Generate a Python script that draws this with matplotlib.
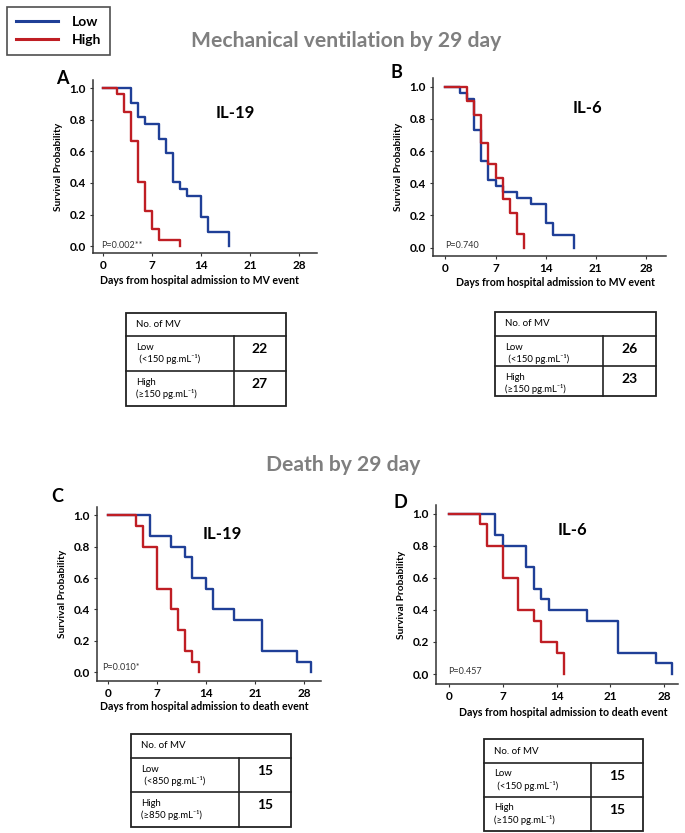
import matplotlib
matplotlib.use('Agg')
import matplotlib.pyplot as plt
from matplotlib.lines import Line2D
from matplotlib.patches import Rectangle

plt.rcParams['font.family'] = ['Lato', 'DejaVu Sans']

BLUE = '#1f3f97'
RED = '#bf1e24'

# Kaplan-Meier step data (day, survival probability)
# A: IL-19, mechanical ventilation
a_low_t = [0, 4, 5, 6, 8, 9, 10, 11, 12, 14, 15, 18]
a_low_s = [1.0, 0.909, 0.818, 0.773, 0.682, 0.591, 0.409, 0.364, 0.318, 0.182, 0.091, 0.0]
a_high_t = [0, 2, 3, 4, 5, 6, 7, 8, 11]
a_high_s = [1.0, 0.963, 0.852, 0.667, 0.407, 0.222, 0.111, 0.037, 0.0]

# B: IL-6, mechanical ventilation
b_low_t = [0, 2, 3, 4, 5, 6, 7, 8, 10, 12, 14, 15, 18]
b_low_s = [1.0, 0.962, 0.923, 0.731, 0.538, 0.423, 0.385, 0.346, 0.308, 0.269, 0.154, 0.077, 0.0]
b_high_t = [0, 3, 4, 5, 6, 7, 8, 9, 10, 11]
b_high_s = [1.0, 0.913, 0.826, 0.652, 0.522, 0.435, 0.304, 0.217, 0.087, 0.0]

# C: IL-19, death
c_low_t = [0, 6, 9, 11, 12, 14, 15, 18, 22, 27, 29]
c_low_s = [1.0, 0.867, 0.8, 0.733, 0.6, 0.533, 0.4, 0.333, 0.133, 0.067, 0.0]
c_high_t = [0, 4, 5, 7, 9, 10, 11, 12, 13]
c_high_s = [1.0, 0.933, 0.8, 0.533, 0.4, 0.267, 0.133, 0.067, 0.0]

# D: IL-6, death
d_low_t = [0, 6, 7, 10, 11, 12, 13, 18, 22, 27, 29]
d_low_s = [1.0, 0.867, 0.8, 0.667, 0.533, 0.467, 0.4, 0.333, 0.133, 0.067, 0.0]
d_high_t = [0, 4, 5, 7, 9, 11, 12, 14, 15]
d_high_s = [1.0, 0.933, 0.8, 0.6, 0.4, 0.333, 0.2, 0.133, 0.0]

panel_letters = ['A', 'B', 'C', 'D']
markers = ['IL-19', 'IL-6', 'IL-19', 'IL-6']
p_values = ['P=0.002**', 'P=0.740', 'P=0.010*', 'P=0.457']
x_labels = ['Days from hospital admission to MV event'] * 2 + \
           ['Days from hospital admission to death event'] * 2
x_ticks = [0, 7, 14, 21, 28]
y_ticks = [0.0, 0.2, 0.4, 0.6, 0.8, 1.0]

# table contents
low_labels = ['(<150 pg.mL⁻¹)', '(<150 pg.mL⁻¹)', '(<850 pg.mL⁻¹)', '(<150 pg.mL⁻¹)']
high_labels = ['(≥150 pg.mL⁻¹)', '(≥150 pg.mL⁻¹)', '(≥850 pg.mL⁻¹)', '(≥150 pg.mL⁻¹)']
n_low = [22, 26, 15, 15]
n_high = [27, 23, 15, 15]

W, H = 685, 833
fig = plt.figure(figsize=(W / 100, H / 100), dpi=100)


def fx(px):
    return px / W


def fy(py):
    return 1 - py / H


# axes boxes in pixels: left, right, top, bottom ; and limits
boxes = [(93, 317, 80, 253), (433, 666, 78, 256), (97, 321, 507, 681), (436, 678, 505, 684)]
xlims = [(-1.43, 30.5), (-1.74, 30.8), (-1.61, 30.4), (-1.69, 29.8)]
ylims = [(-0.044, 1.053), (-0.052, 1.054), (-0.057, 1.053), (-0.062, 1.054)]
curves = [(a_low_t, a_low_s, a_high_t, a_high_s),
          (b_low_t, b_low_s, b_high_t, b_high_s),
          (c_low_t, c_low_s, c_high_t, c_high_s),
          (d_low_t, d_low_s, d_high_t, d_high_s)]
letter_pos = [(62, 78), (396, 73), (57, 497), (400, 502)]
marker_pos = [(235, 113), (587, 108), (222, 534), (572, 530)]
p_pos = [(101, 245), (445, 245), (102, 667), (448, 672)]
xlab_pos = [(200, 281), (555, 282), (204, 707), (563, 712)]

handles = None
for i in range(4):
    l, r, t, b = boxes[i]
    ax = fig.add_axes([fx(l), fy(b), (r - l) / W, (b - t) / H])
    lt, ls, ht, hs = curves[i]
    hl, = ax.step(lt, ls, where='post', color=BLUE, lw=1.7, label='Low')
    hh, = ax.step(ht, hs, where='post', color=RED, lw=1.7, label='High')
    handles = [hl, hh]
    ax.set_xlim(*xlims[i])
    ax.set_ylim(*ylims[i])
    ax.set_xticks(x_ticks)
    ax.set_yticks(y_ticks)
    ax.set_yticklabels(['%.1f' % v for v in y_ticks])
    for s in ['top', 'right']:
        ax.spines[s].set_visible(False)
    for s in ['left', 'bottom']:
        ax.spines[s].set_color('#333333')
        ax.spines[s].set_linewidth(1.1)
    ax.tick_params(length=2, width=0.8, color='#333333', labelsize=8.5, pad=3)
    for lab in ax.get_xticklabels() + ax.get_yticklabels():
        lab.set_fontweight('bold')
    ax.set_ylabel('Survival Probability', fontsize=7.3, fontweight='bold', labelpad=5)
    fig.text(fx(xlab_pos[i][0]), fy(xlab_pos[i][1]), x_labels[i], fontsize=7.6,
             fontweight='bold', ha='center', va='center')
    fig.text(fx(letter_pos[i][0]), fy(letter_pos[i][1]), panel_letters[i],
             fontsize=13, fontweight='bold', ha='center', va='center')
    fig.text(fx(marker_pos[i][0]), fy(marker_pos[i][1]), markers[i],
             fontsize=12, fontweight='bold', ha='center', va='center')
    fig.text(fx(p_pos[i][0]), fy(p_pos[i][1]), p_values[i],
             fontsize=6.5, color='#333333', ha='left', va='center')

# section titles
fig.text(fx(346), fy(41), 'Mechanical ventilation by 29 day', fontsize=15.2,
         fontweight='bold', color='#7f7f7f', ha='center', va='center')
fig.text(fx(343), fy(465), 'Death by 29 day', fontsize=15.2,
         fontweight='bold', color='#7f7f7f', ha='center', va='center')

# legend box in the top-left corner
leg = fig.legend(handles, ['Low', 'High'], loc='upper left', bbox_to_anchor=(0.0, 1.0),
                 frameon=True, fancybox=False, edgecolor='#222222',
                 handlelength=3.0, borderpad=0.65, labelspacing=0.45, handletextpad=1.0,
                 prop={'weight': 'bold', 'size': 10})
leg.get_frame().set_linewidth(1.2)
for ln in leg.get_lines():
    ln.set_linewidth(2.2)

# count tables: left, right, top, header bottom, mid divider, bottom, vertical divider
tables = [(126, 286, 313, 336, 371, 406, 234),
          (495, 656, 312, 336, 366, 396, 603),
          (131, 291, 734, 758, 792, 827, 239),
          (484, 643, 739, 763, 797, 831, 591)]
for i, (l, r, t, hb, md, b, vd) in enumerate(tables):
    kw = dict(color='#222222', lw=1.2, transform=fig.transFigure)
    fig.add_artist(Rectangle((fx(l), fy(b)), (r - l) / W, (b - t) / H,
                             fill=False, ec='#222222', lw=1.3, transform=fig.transFigure))
    fig.add_artist(Line2D([fx(l), fx(r)], [fy(hb), fy(hb)], **kw))
    fig.add_artist(Line2D([fx(l), fx(r)], [fy(md), fy(md)], **kw))
    fig.add_artist(Line2D([fx(vd), fx(vd)], [fy(hb), fy(b)], **kw))
    tx = l + 10
    fig.text(fx(tx), fy((t + hb) / 2), 'No. of MV', fontsize=7, ha='left', va='center')
    fig.text(fx(tx), fy(hb + 11), 'Low', fontsize=6.8, ha='left', va='center')
    fig.text(fx(tx + 1), fy(hb + 23), ' ' + low_labels[i], fontsize=6.8, ha='left', va='center')
    fig.text(fx(tx), fy(md + 11), 'High', fontsize=6.8, ha='left', va='center')
    fig.text(fx(tx), fy(md + 23), high_labels[i], fontsize=6.8, ha='left', va='center')
    fig.text(fx((vd + r) / 2), fy(hb + 13), str(n_low[i]), fontsize=10,
             fontweight='bold', ha='center', va='center')
    fig.text(fx((vd + r) / 2), fy(md + 13), str(n_high[i]), fontsize=10,
             fontweight='bold', ha='center', va='center')

fig.savefig('out.png', dpi=100)
